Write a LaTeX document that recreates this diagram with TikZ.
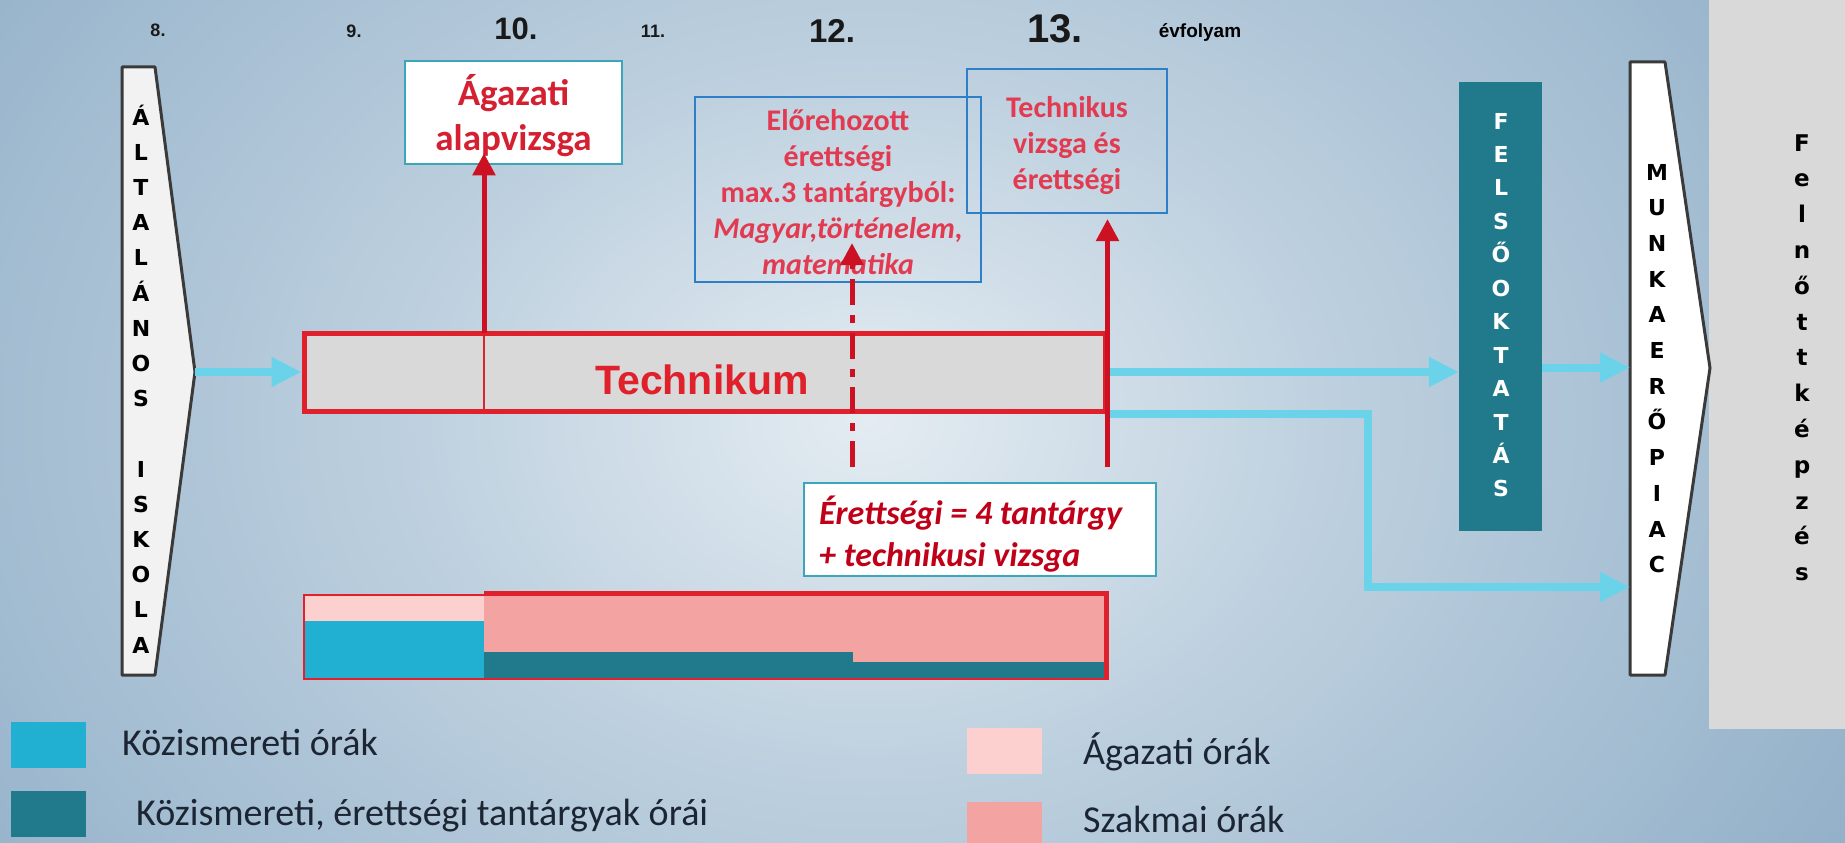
\documentclass[tikz,border=0pt]{standalone}
\usepackage{fontspec}
\setmainfont{Carlito}
\newfontfamily\arialf{Liberation Sans}
\newfontfamily\verdf{DejaVu Sans}
\usetikzlibrary{arrows.meta,calc}
\definecolor{bgin}{HTML}{E4ECF2}
\definecolor{bgmid}{HTML}{BCCFDE}
\definecolor{bgout}{HTML}{7B9FBD}
\definecolor{techred}{HTML}{E0202A}
\definecolor{arrred}{HTML}{CC1122}
\definecolor{txtred}{HTML}{D42030}
\definecolor{pinkred}{HTML}{E23A50}
\definecolor{darkred}{HTML}{C00018}
\definecolor{boxblue}{HTML}{2F7FC8}
\definecolor{boxteal}{HTML}{3AA6B9}
\definecolor{arrcyan}{HTML}{6AD3EA}
\definecolor{kozcyan}{HTML}{22B0D2}
\definecolor{kozteal}{HTML}{217A8C}
\definecolor{agpink}{HTML}{FDD0D0}
\definecolor{szpink}{HTML}{F4A3A3}
\definecolor{panelgrey}{HTML}{D9D9D9}
\definecolor{techgrey}{HTML}{D9D9D9}
\definecolor{legtxt}{HTML}{1C2533}
\definecolor{pentline}{HTML}{3A3A3A}
\pgfdeclareradialshading{bgshade}{\pgfpoint{0bp}{0bp}}{color(0bp)=(bgin); color(10bp)=(bgmid); color(31bp)=(bgout); color(50bp)=(bgout)}
\begin{document}
\begin{tikzpicture}[x=1pt,y=-1pt,
  vletter/.style={font=\verdf\bfseries\fontsize{22}{22}\selectfont, text=black, inner sep=0, anchor=base},
  wletter/.style={font=\verdf\bfseries\fontsize{22}{22}\selectfont, text=white, inner sep=0, anchor=base},
  fletter/.style={font=\verdf\bfseries\fontsize{23}{23}\selectfont, text=black, inner sep=0, anchor=base},
  cyanarrow/.style={draw=arrcyan, line width=8pt, -{Triangle[length=30pt,width=28pt]}},
  redarrow/.style={draw=arrred, line width=5pt, -{Triangle[length=22pt,width=22pt]}},
  pentshape/.style={draw=pentline, line width=3pt, line join=round},
  yrsmall/.style={font=\arialf\bfseries\fontsize{18}{18}\selectfont, text=black!90, inner sep=0},
  yrbig/.style={font=\arialf\bfseries\fontsize{#1}{#1}\selectfont, text=black!90, inner sep=0},
  bluebox/.style={draw=boxblue, line width=2pt, inner sep=0},
  tealbox/.style={draw=boxteal, line width=2.5pt, fill=white, inner sep=0},
  legsq/.style={minimum width=75pt, minimum height=46pt, inner sep=0},
  legtext/.style={font=\fontsize{38}{38}\selectfont, text=legtxt, inner sep=0, anchor=west},
]
\useasboundingbox (0,0) rectangle (1845,843);
\begin{scope}
\clip (0,0) rectangle (1845,843);
\shade[shading=bgshade] (-330,-500) rectangle (2070,1340);
\end{scope}
% right grey panel
\fill[panelgrey] (1709,0) rectangle (1845,729);

% year labels
\node[yrsmall] (y8) at (158,30) {8.};
\node[yrsmall] (y9) at (354,31) {9.};
\node[yrbig=31] (y10) at (516,29) {10.};
\node[yrsmall] (y11) at (653,31) {11.};
\node[yrbig=33] (y12) at (832,31) {12.};
\node[yrbig=40] (y13) at (1055,29) {13.};
\node[font=\arialf\bfseries\fontsize{19}{19}\selectfont, inner sep=0] (evf) at (1200,33) {évfolyam};

% Altalanos iskola pentagon
\draw[pentshape, fill=white!95!black] (122,67) -- (155,67) -- (195,372) -- (155,675) -- (122,675) -- cycle;
\coordinate (alttip) at (195,372);
\foreach \ch [count=\i from 0] in {Á,L,T,A,L,Á,N,O,S}
  \node[vletter] (alt\i) at (141,{125+35.2*\i}) {\ch};
\foreach \ch [count=\i from 10] in {I,S,K,O,L,A}
  \node[vletter] (alt\i) at (141,{125+35.2*\i}) {\ch};

% Technikum bar
\node[draw=techred, line width=5pt, fill=techgrey, minimum width=801pt, minimum height=78pt, inner sep=0] (tech) at (704.5,372) {};
\coordinate (divtop) at (484,333);
\coordinate (divbot) at (484,411);
\draw[techred, line width=2pt] (divtop) -- (divbot);
\node[font=\arialf\bfseries\fontsize{41}{41}\selectfont, text=techred, inner sep=0] (techlabel) at (702,380) {Technikum};

% Agazati alapvizsga
\node[tealbox, minimum width=217pt, minimum height=103pt] (agbox) at (513.5,112.5) {};
\node[font=\bfseries\fontsize{37}{45}\selectfont, text=txtred, align=center, inner sep=0] (agtext) at (513.5,116) {Ágazati\\alapvizsga};
\draw[redarrow] (divtop) -- ($(agbox.south -| divtop)+(0,-12)$);

% Elorehozott erettsegi
\node[bluebox, minimum width=286pt, minimum height=185pt] (elbox) at (838,189.5) {};
\node[font=\bfseries\fontsize{30}{36}\selectfont, text=pinkred, align=center, inner sep=0] (eltext) at (838,192) {Előrehozott\\érettségi\\max.3 tantárgyból:\\\textit{Magyar,történelem,}\\\textit{matematika}};
\coordinate (dbot) at (852,467);
\coordinate (dtip) at (852,243);
\draw[redarrow, dash pattern=on 26pt off 10pt on 8pt off 10pt] (dbot) -- (dtip);

% Technikus vizsga
\node[bluebox, minimum width=200pt, minimum height=144pt] (tkbox) at (1067,141) {};
\node[font=\bfseries\fontsize{30}{36}\selectfont, text=pinkred, align=center, inner sep=0] (tktext) at (1067,146) {Technikus\\vizsga és\\érettségi};

% Erettsegi box
\node[tealbox, line width=2pt, minimum width=352pt, minimum height=93pt] (erbox) at (980,529.5) {};
\node[font=\bfseries\itshape\fontsize{34}{42}\selectfont, text=darkred, align=left, inner sep=0, anchor=west] (ertext) at ($(erbox.west)+(16,5)$) {Érettségi = 4 tantárgy\\+ technikusi vizsga};

% hours bar
\fill[agpink] (304,595) rectangle (484,621);
\fill[kozcyan] (304,621) rectangle (484,679);
\fill[szpink] (484,595) rectangle (853,652);
\fill[kozteal] (484,652) rectangle (853,679);
\fill[szpink] (853,595) rectangle (1105,662);
\fill[kozteal] (853,662) rectangle (1105,679);
\node[draw=techred, line width=2.5pt, minimum width=801pt, minimum height=84pt, inner sep=0] (hours) at (704.5,637) {};
\draw[techred, line width=5pt] (hours.north -| divtop) -- (hours.north east) -- (hours.south east);

% Felsooktatas
\node[fill=kozteal, minimum width=83pt, minimum height=449pt, inner sep=0] (felso) at (1500.5,306.5) {};
\foreach \ch [count=\i from 0] in {F,E,L,S,Ő,O,K,T,A,T,Á,S}
  \node[wletter] (fel\i) at (1501,{129+33.45*\i}) {\ch};

% Munkaeropiac pentagon
\draw[pentshape, fill=white] (1630,62) -- (1665,62) -- (1710,368) -- (1665,675) -- (1630,675) -- cycle;
\coordinate (munkaleft) at (1630,368);
\foreach \ch [count=\i from 0] in {M,U,N,K,A,E,R,Ő,P,I,A,C}
  \node[vletter] (mun\i) at (1657,{180+35.7*\i}) {\ch};

% Felnottkepzes
\foreach \ch [count=\i from 0] in {F,e,l,n,ő,t,t,k,é,p,z,é,s}
  \node[fletter] (fk\i) at (1802,{151+35.8*\i}) {\ch};

% cyan arrows
\draw[cyanarrow] (alttip) -- (tech.west);
\draw[cyanarrow] (tech.east) -- (tech.east -| felso.west);
\coordinate (bend) at (1368,587);
\draw[cyanarrow] (tech.south east) -| (bend) -- (bend -| munkaleft);
\coordinate (fmstart) at ($(felso.east)+(0,61)$);
\draw[cyanarrow] (fmstart) -- (fmstart -| munkaleft);

% red arrow to Technikus box
\coordinate (techrb) at ($(tech.east)+(0,95)$);
\draw[redarrow] (techrb) -- ($(tkbox.south -| techrb)+(0,5)$);

% legend
\node[legsq, fill=kozcyan] (lg1) at (48.5,745) {};
\node[legtext] (lt1) at (122,742) {Közismereti órák};
\node[legsq, fill=kozteal] (lg2) at (48.5,814) {};
\node[legtext] (lt2) at (136,816) {Közismereti, érettségi tantárgyak órái};
\node[legsq, fill=agpink] (lg3) at (1004.5,751) {};
\node[legtext] (lt3) at (1083,752) {Ágazati órák};
\node[legsq, fill=szpink] (lg4) at (1004.5,825) {};
\node[legtext] (lt4) at (1083,819) {Szakmai órák};
\end{tikzpicture}
\end{document}
